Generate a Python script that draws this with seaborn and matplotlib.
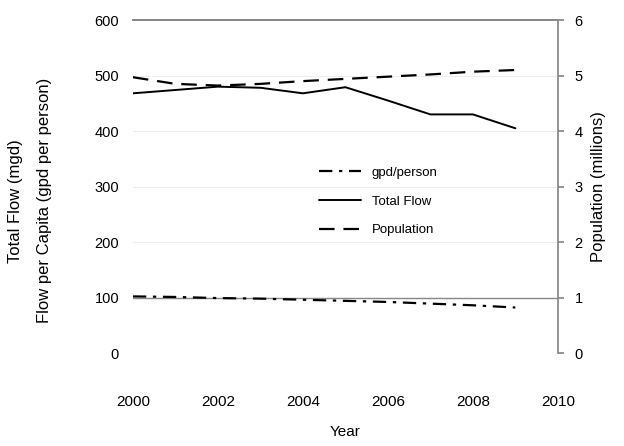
import pandas as pd
import matplotlib.pyplot as plt
import seaborn as sns

# Set seaborn style
sns.set_theme(style="white")
plt.rcParams['font.family'] = ['Liberation Sans', 'DejaVu Sans']
plt.rcParams['text.color'] = 'black'
plt.rcParams['axes.labelcolor'] = 'black'
plt.rcParams['xtick.color'] = 'black'
plt.rcParams['ytick.color'] = 'black'

# Values
years = [2000, 2001, 2002, 2003, 2004, 2005, 2006, 2007, 2008, 2009]
gpd_per_person = [102, 101, 99, 98, 96, 94, 92, 89, 86, 82]
total_flow = [468, 474, 480, 478, 468, 479, 455, 430, 430, 405]
population = [4.97, 4.85, 4.82, 4.85, 4.90, 4.94, 4.98, 5.02, 5.07, 5.10]

df = pd.DataFrame({
    'Year': years,
    'gpd/person': gpd_per_person,
    'Total Flow': total_flow,
    'Population': population,
})

fig = plt.figure(figsize=(6.24, 4.46), dpi=100)
ax = fig.add_axes([0.213, 0.2085, 0.681, 0.7465])
ax2 = ax.twinx()

sns.lineplot(data=df, x='Year', y='gpd/person', ax=ax, color='black', lw=1.6,
             label='gpd/person')
ax.lines[-1].set_dashes([6, 3, 1.5, 3])
sns.lineplot(data=df, x='Year', y='Total Flow', ax=ax, color='black', lw=1.4,
             label='Total Flow')
sns.lineplot(data=df, x='Year', y='Population', ax=ax2, color='black', lw=1.6,
             label='Population')
ax2.lines[-1].set_dashes([7, 4])

ax.set_xlim(2000, 2010)
ax.set_ylim(0, 600)
ax2.set_ylim(0, 6)
ax.set_xticks(range(2000, 2011, 2))
ax.set_yticks(range(0, 601, 100))
ax2.set_yticks(range(0, 7))

# faint Excel-like gridlines, with the top and 100 lines darker
ax.grid(axis='y', color='#eeeeee', lw=0.8)
ax.axhline(100, color='#888888', lw=1.0, zorder=1)
for s in ['left', 'bottom']:
    ax.spines[s].set_visible(False)
    ax2.spines[s].set_visible(False)
ax.spines['top'].set_color('#888888')
ax2.spines['top'].set_color('#888888')
ax.spines['right'].set_visible(False)
ax2.spines['right'].set_color('#888888')

ax.tick_params(axis='x', length=0, pad=30, labelsize=11)
ax.tick_params(axis='y', length=0, pad=10, labelsize=10.5)
ax2.tick_params(axis='y', length=4, color='#888888', pad=8, labelsize=10.5)

ax.set_xlabel('Year', fontsize=11, labelpad=12)
ax.set_ylabel('')
ax2.set_ylabel('Population (millions)', fontsize=12, labelpad=6)
fig.text(0.025, 0.55, 'Total Flow (mgd)', rotation=90, ha='center', va='center', fontsize=12)
fig.text(0.072, 0.55, 'Flow per Capita (gpd per person)', rotation=90, ha='center',
         va='center', fontsize=12)

# one legend for both axes
h1, l1 = ax.get_legend_handles_labels()
h2, l2 = ax2.get_legend_handles_labels()
if ax2.get_legend():
    ax2.get_legend().remove()
ax.legend(h1 + h2, l1 + l2, loc='upper left', bbox_to_anchor=(0.41, 0.595),
          frameon=False, fontsize=9.5, handlelength=3.2, labelspacing=1.25)

plt.savefig('out.png', dpi=100)
plt.close()
